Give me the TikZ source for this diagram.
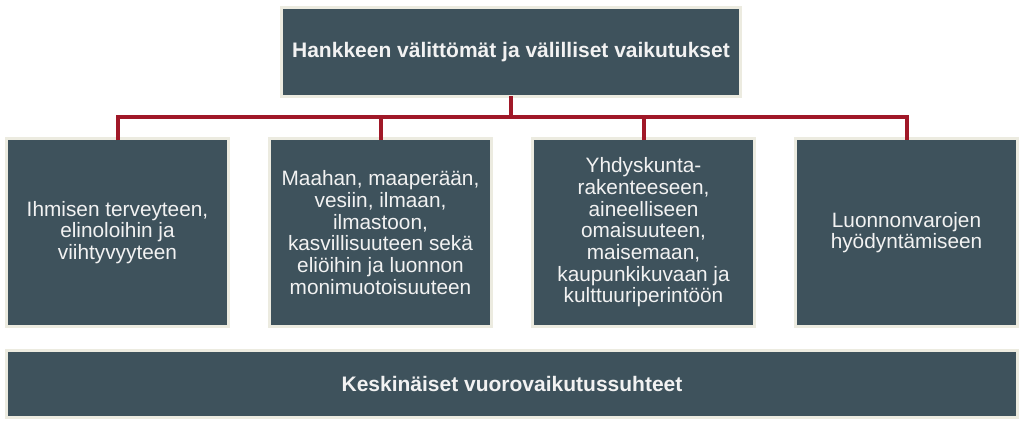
\documentclass[tikz,border=0pt]{standalone}
\usepackage{fontspec}
\setmainfont{Liberation Sans}
\definecolor{slate}{RGB}{62,82,92}
\definecolor{cream}{RGB}{236,235,224}
\definecolor{redline}{RGB}{160,24,40}
\definecolor{txt}{RGB}{242,242,242}
\begin{document}
\begin{tikzpicture}[x=1pt,y=-1pt,
  box/.style={draw=cream, line width=2.5pt, fill=slate, text=txt, align=center,
    inner sep=0pt, font=\fontsize{20.8}{21.7}\selectfont},
  boldbox/.style={box, font=\fontsize{21}{21.7}\selectfont\bfseries},
  smallbox/.style={box, minimum width=222pt, minimum height=188pt},
  conn/.style={draw=redline, line width=4pt}]
\useasboundingbox (0,0) rectangle (1024,426);
\coordinate (bus) at (511,117);
\node[boldbox, minimum width=459pt, minimum height=89pt] (top) at (511,52) {Hankkeen välittömät ja välilliset vaikutukset};
\node[smallbox] (b1) at (117.5,232.5) {Ihmisen terveyteen,\\elinoloihin ja\\viihtyvyyteen};
\node[smallbox] (b2) at (380.5,232.5) {Maahan, maaperään,\\vesiin, ilmaan,\\ilmastoon,\\kasvillisuuteen sekä\\eliöihin ja luonnon\\monimuotoisuuteen};
\node[smallbox] (b3) at (643.5,232.5) {Yhdyskunta-\\rakenteeseen,\\aineelliseen\\omaisuuteen,\\maisemaan,\\kaupunkikuvaan ja\\kulttuuriperintöön};
\node[smallbox] (b4) at (906.5,232.5) {Luonnonvarojen\\hyödyntämiseen};
\node[boldbox, minimum width=1011pt, minimum height=67pt] (bottom) at (512,384) {Keskinäiset vuorovaikutussuhteet};
\draw[conn] ([yshift=1.5pt]top.south) -- (bus);
\draw[conn] ([yshift=-3pt]b1.north) |- (bus) -| ([yshift=-3pt]b4.north);
\draw[conn] ([yshift=-3pt]b2.north) -- (b2.north |- bus);
\draw[conn] ([yshift=-3pt]b3.north) -- (b3.north |- bus);
\end{tikzpicture}
\end{document}
